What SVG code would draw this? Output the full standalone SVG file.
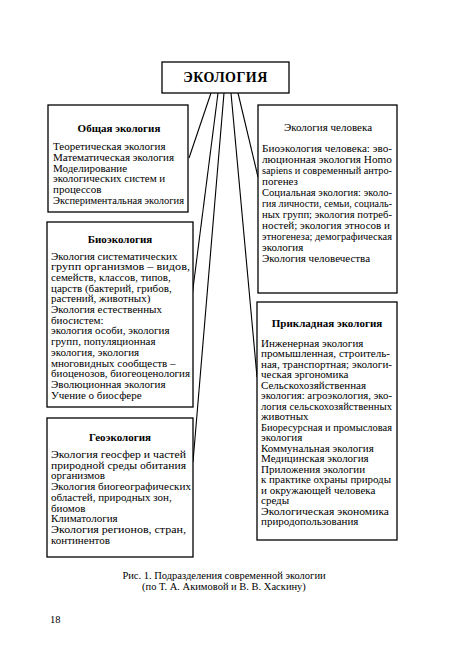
<svg xmlns="http://www.w3.org/2000/svg" width="450" height="662" viewBox="0 0 450 662">
<style>
.box{fill:#fff;stroke:#000;stroke-width:1.3}
.t{font-family:"Liberation Serif","Times New Roman",serif;font-size:11px;fill:#000}
.h{font-family:"Liberation Serif","Times New Roman",serif;font-size:11px;font-weight:bold;fill:#000;text-anchor:middle}
.c{font-family:"Liberation Serif","Times New Roman",serif;font-size:10.5px;fill:#000;text-anchor:middle}
.ln{stroke:#000;stroke-width:1.1;fill:none}
</style>
<rect width="450" height="662" fill="#fff"/>
<g id="connectors">
<line class="ln" x1="211" y1="93" x2="189" y2="158"/>
<line class="ln" x1="218" y1="93" x2="190" y2="312"/>
<line class="ln" x1="224" y1="93" x2="193" y2="462"/>
<line class="ln" x1="231" y1="93" x2="257" y2="377"/>
<line class="ln" x1="238" y1="93" x2="258" y2="177"/>
</g>
<g id="ecology">
<rect class="box" x="162" y="62" width="127" height="31"/>
<text x="225.5" y="82" style="font-family:'Liberation Serif','Times New Roman',serif;font-size:14px;font-weight:bold;text-anchor:middle;letter-spacing:0.5px">ЭКОЛОГИЯ</text>
</g>
<g id="general">
<rect class="box" x="48" y="105" width="140" height="107"/>
<text class="h" x="119" y="132">Общая экология</text>
<text class="t" x="53" y="149.5">Теоретическая экология</text>
<text class="t" x="53" y="160.5">Математическая экология</text>
<text class="t" x="53" y="171.5">Моделирование</text>
<text class="t" x="53" y="182">экологических систем и</text>
<text class="t" x="53" y="192.5">процессов</text>
<text class="t" x="53" y="203.5" textLength="131" lengthAdjust="spacingAndGlyphs">Экспериментальная экология</text>
</g>
<g id="human">
<rect class="box" x="258" y="105" width="139" height="188"/>
<text class="h" x="328" y="131" style="font-weight:normal">Экология человека</text>
<text class="t" x="262" y="152" textLength="130" lengthAdjust="spacingAndGlyphs">Биоэкология человека: эво-</text>
<text class="t" x="262" y="163" textLength="130" lengthAdjust="spacingAndGlyphs">люционная экология Homo</text>
<text class="t" x="262" y="174" textLength="130" lengthAdjust="spacingAndGlyphs">sapiens и современный антро-</text>
<text class="t" x="262" y="185">погенез</text>
<text class="t" x="262" y="196" textLength="130" lengthAdjust="spacingAndGlyphs">Социальная экология: эколо-</text>
<text class="t" x="262" y="207" textLength="130" lengthAdjust="spacingAndGlyphs">гия личности, семьи, социаль-</text>
<text class="t" x="262" y="218" textLength="130" lengthAdjust="spacingAndGlyphs">ных групп; экология потреб-</text>
<text class="t" x="262" y="229" textLength="128" lengthAdjust="spacingAndGlyphs">ностей; экология этносов и</text>
<text class="t" x="262" y="240" textLength="130" lengthAdjust="spacingAndGlyphs">этногенеза; демографическая</text>
<text class="t" x="262" y="251">экология</text>
<text class="t" x="262" y="262">Экология человечества</text>
</g>
<g id="bioecology">
<rect class="box" x="47" y="222" width="146" height="185"/>
<text class="h" x="120" y="243">Биоэкология</text>
<text class="t" x="51" y="259.5">Экология систематических</text>
<text class="t" x="51" y="270.2" textLength="139" lengthAdjust="spacingAndGlyphs">групп организмов – видов,</text>
<text class="t" x="51" y="280.9">семейств, классов, типов,</text>
<text class="t" x="51" y="291.6">царств (бактерий, грибов,</text>
<text class="t" x="51" y="302.3">растений, животных)</text>
<text class="t" x="51" y="313">Экология естественных</text>
<text class="t" x="51" y="323.7">биосистем:</text>
<text class="t" x="51" y="334.4">экология особи, экология</text>
<text class="t" x="51" y="345.1">групп, популяционная</text>
<text class="t" x="51" y="355.8">экология, экология</text>
<text class="t" x="51" y="366.5">многовидных сообществ –</text>
<text class="t" x="51" y="377.2" textLength="139" lengthAdjust="spacingAndGlyphs">биоценозов, биогеоценология</text>
<text class="t" x="51" y="387.9">Эволюционная экология</text>
<text class="t" x="51" y="398.6">Учение о биосфере</text>
</g>
<g id="applied">
<rect class="box" x="257" y="302" width="140" height="238"/>
<text class="h" x="327" y="327">Прикладная экология</text>
<text class="t" x="261" y="346.5">Инженерная экология</text>
<text class="t" x="261" y="357" textLength="129" lengthAdjust="spacingAndGlyphs">промышленная, строитель-</text>
<text class="t" x="261" y="367.5" textLength="131" lengthAdjust="spacingAndGlyphs">ная, транспортная; экологи-</text>
<text class="t" x="261" y="378">ческая эргономика</text>
<text class="t" x="261" y="388.5">Сельскохозяйственная</text>
<text class="t" x="261" y="399" textLength="131" lengthAdjust="spacingAndGlyphs">экология: агроэкология, эко-</text>
<text class="t" x="261" y="409.5" textLength="131" lengthAdjust="spacingAndGlyphs">логия сельскохозяйственных</text>
<text class="t" x="261" y="420">животных</text>
<text class="t" x="261" y="430.5" textLength="131" lengthAdjust="spacingAndGlyphs">Биоресурсная и промысловая</text>
<text class="t" x="261" y="441">экология</text>
<text class="t" x="261" y="451.5">Коммунальная экология</text>
<text class="t" x="261" y="462">Медицинская экология</text>
<text class="t" x="261" y="472.5">Приложения экологии</text>
<text class="t" x="261" y="483" textLength="130" lengthAdjust="spacingAndGlyphs">к практике охраны природы</text>
<text class="t" x="261" y="493.5">и окружающей человека</text>
<text class="t" x="261" y="504">среды</text>
<text class="t" x="261" y="514.5" textLength="128" lengthAdjust="spacingAndGlyphs">Экологическая экономика</text>
<text class="t" x="261" y="525">природопользования</text>
</g>
<g id="geoecology">
<rect class="box" x="47" y="418" width="146" height="139"/>
<text class="h" x="120" y="441">Геоэкология</text>
<text class="t" x="51" y="458" textLength="135" lengthAdjust="spacingAndGlyphs">Экология геосфер и частей</text>
<text class="t" x="51" y="468.7" textLength="135" lengthAdjust="spacingAndGlyphs">природной среды обитания</text>
<text class="t" x="51" y="479.4">организмов</text>
<text class="t" x="51" y="490.1" textLength="140" lengthAdjust="spacingAndGlyphs">Экология биогеографических</text>
<text class="t" x="51" y="500.8">областей, природных зон,</text>
<text class="t" x="51" y="511.5">биомов</text>
<text class="t" x="51" y="522.2">Климатология</text>
<text class="t" x="51" y="532.9" textLength="135" lengthAdjust="spacingAndGlyphs">Экология регионов, стран,</text>
<text class="t" x="51" y="543.6">континентов</text>
</g>
<g id="caption">
<text class="c" x="224" y="579">Рис. 1.  Подразделения современной экологии</text>
<text class="c" x="224" y="590">(по Т. А. Акимовой и В. В. Хаскину)</text>
<text class="t" x="50" y="623" style="font-size:10.5px">18</text>
</g>
</svg>
